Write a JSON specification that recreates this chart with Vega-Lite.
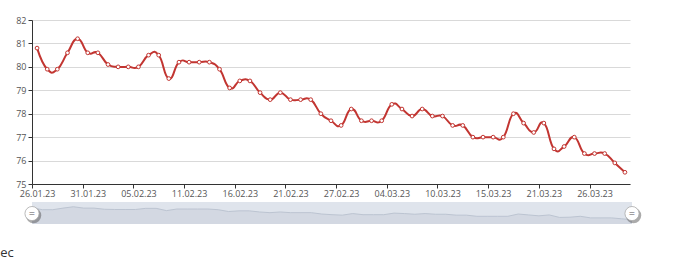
{
  "$schema": "https://vega.github.io/schema/vega-lite/v6.json",
  "autosize": {"type": "pad"},
  "padding": {"left": -6, "top": 16, "right": 0, "bottom": 0},
  "background": "white",
  "config": {"font": "Open Sans", "view": {"stroke": null}},
  "bounds": "flush",
  "spacing": 18,
  "data": {"values": [
    {"i": 0, "date": "26.01.23", "v": 80.8},
    {"i": 1, "date": "27.01.23", "v": 79.9},
    {"i": 2, "date": "28.01.23", "v": 79.9},
    {"i": 3, "date": "29.01.23", "v": 80.6},
    {"i": 4, "date": "30.01.23", "v": 81.2},
    {"i": 5, "date": "31.01.23", "v": 80.6},
    {"i": 6, "date": "01.02.23", "v": 80.6},
    {"i": 7, "date": "02.02.23", "v": 80.1},
    {"i": 8, "date": "03.02.23", "v": 80.0},
    {"i": 9, "date": "04.02.23", "v": 80.0},
    {"i": 10, "date": "05.02.23", "v": 80.0},
    {"i": 11, "date": "06.02.23", "v": 80.5},
    {"i": 12, "date": "07.02.23", "v": 80.5},
    {"i": 13, "date": "08.02.23", "v": 79.5},
    {"i": 14, "date": "09.02.23", "v": 80.2},
    {"i": 15, "date": "11.02.23", "v": 80.2},
    {"i": 16, "date": "12.02.23", "v": 80.2},
    {"i": 17, "date": "13.02.23", "v": 80.2},
    {"i": 18, "date": "14.02.23", "v": 79.9},
    {"i": 19, "date": "15.02.23", "v": 79.1},
    {"i": 20, "date": "16.02.23", "v": 79.4},
    {"i": 21, "date": "17.02.23", "v": 79.4},
    {"i": 22, "date": "18.02.23", "v": 78.9},
    {"i": 23, "date": "19.02.23", "v": 78.6},
    {"i": 24, "date": "20.02.23", "v": 78.9},
    {"i": 25, "date": "21.02.23", "v": 78.6},
    {"i": 26, "date": "22.02.23", "v": 78.6},
    {"i": 27, "date": "23.02.23", "v": 78.6},
    {"i": 28, "date": "24.02.23", "v": 78.0},
    {"i": 29, "date": "25.02.23", "v": 77.7},
    {"i": 30, "date": "27.02.23", "v": 77.5},
    {"i": 31, "date": "28.02.23", "v": 78.2},
    {"i": 32, "date": "01.03.23", "v": 77.7},
    {"i": 33, "date": "02.03.23", "v": 77.7},
    {"i": 34, "date": "03.03.23", "v": 77.7},
    {"i": 35, "date": "04.03.23", "v": 78.4},
    {"i": 36, "date": "05.03.23", "v": 78.2},
    {"i": 37, "date": "06.03.23", "v": 77.9},
    {"i": 38, "date": "07.03.23", "v": 78.2},
    {"i": 39, "date": "08.03.23", "v": 77.9},
    {"i": 40, "date": "10.03.23", "v": 77.9},
    {"i": 41, "date": "11.03.23", "v": 77.5},
    {"i": 42, "date": "12.03.23", "v": 77.5},
    {"i": 43, "date": "13.03.23", "v": 77.0},
    {"i": 44, "date": "14.03.23", "v": 77.0},
    {"i": 45, "date": "15.03.23", "v": 77.0},
    {"i": 46, "date": "16.03.23", "v": 77.0},
    {"i": 47, "date": "17.03.23", "v": 78.0},
    {"i": 48, "date": "18.03.23", "v": 77.6},
    {"i": 49, "date": "19.03.23", "v": 77.2},
    {"i": 50, "date": "21.03.23", "v": 77.6},
    {"i": 51, "date": "22.03.23", "v": 76.5},
    {"i": 52, "date": "23.03.23", "v": 76.6},
    {"i": 53, "date": "24.03.23", "v": 77.0},
    {"i": 54, "date": "25.03.23", "v": 76.3},
    {"i": 55, "date": "26.03.23", "v": 76.3},
    {"i": 56, "date": "27.03.23", "v": 76.3},
    {"i": 57, "date": "28.03.23", "v": 75.9},
    {"i": 58, "date": "29.03.23", "v": 75.5}
  ]},
  "vconcat": [
    {
      "width": 598,
      "height": 164,
      "encoding": {
        "x": {
          "field": "date", "type": "ordinal", "sort": null,
          "scale": {"type": "point", "padding": 0.5},
          "axis": {
            "values": ["26.01.23", "31.01.23", "05.02.23", "11.02.23", "16.02.23", "21.02.23", "27.02.23", "04.03.23", "10.03.23", "15.03.23", "21.03.23", "26.03.23"],
            "title": null, "labelAngle": 0, "labelFontSize": 9, "labelColor": "#555", "labelFont": "Open Sans",
            "domainColor": "#333", "tickColor": "#333", "tickSize": 4, "tickOffset": -5, "labelOffset": 5,
            "labelPadding": 1, "grid": false
          }
        },
        "y": {
          "field": "v", "type": "quantitative",
          "scale": {"domain": [75, 82], "nice": false, "zero": false},
          "axis": {
            "values": [75, 76, 77, 78, 79, 80, 81, 82], "title": null, "labelFontSize": 9, "labelColor": "#555",
            "labelFont": "Open Sans", "domainColor": "#333", "tickColor": "#333", "tickSize": 4, "labelPadding": 2,
            "grid": true, "gridColor": "#d9d9d9"
          }
        }
      },
      "layer": [
        {"mark": {"type": "line", "interpolate": "cardinal", "tension": -0.5, "color": "#c23531", "strokeWidth": 2},
         "encoding": {"order": {"field": "i", "type": "quantitative"}}},
        {"mark": {"type": "point", "filled": true, "fill": "white", "stroke": "#c23531", "strokeWidth": 1, "size": 14, "opacity": 1}}
      ]
    },
    {
      "width": 600,
      "height": 22,
      "view": {"fill": "#dfe4ec", "stroke": null},
      "title": {"text": "sec", "orient": "bottom", "anchor": "start", "frame": "group", "offset": 23, "dx": -38, "fontSize": 13, "fontWeight": "normal", "color": "#333", "font": "Open Sans"},
      "layer": [
        {
          "mark": {"type": "area", "color": "#cdd3de", "line": {"color": "#bcc4d1", "strokeWidth": 1}, "clip": true},
          "encoding": {
            "x": {"field": "i", "type": "quantitative", "scale": {"domain": [0, 58], "nice": false}, "axis": null},
            "y": {"field": "v", "type": "quantitative", "scale": {"domain": [73.6, 83.3], "nice": false, "zero": false}, "axis": null}
          }
        },
        {
          "data": {"values": [{"i": 0}, {"i": 58}]},
          "mark": {"type": "point", "shape": "circle", "filled": true, "fill": "#444", "opacity": 0.45, "size": 240, "xOffset": 1.5, "yOffset": 2},
          "encoding": {"x": {"field": "i", "type": "quantitative"}, "y": {"datum": 78.2, "type": "quantitative"}}
        },
        {
          "data": {"values": [{"i": 0}, {"i": 58}]},
          "mark": {"type": "point", "shape": "circle", "filled": true, "fill": "white", "stroke": "#aaaaaa", "strokeWidth": 0.8, "size": 200, "opacity": 1},
          "encoding": {"x": {"field": "i", "type": "quantitative"}, "y": {"datum": 78.2, "type": "quantitative"}}
        },
        {
          "data": {"values": [{"i": 0}, {"i": 58}]},
          "mark": {"type": "text", "text": "=", "fontSize": 11, "color": "#555", "baseline": "middle"},
          "encoding": {"x": {"field": "i", "type": "quantitative"}, "y": {"datum": 78.2, "type": "quantitative"}}
        }
      ]
    }
  ]
}
